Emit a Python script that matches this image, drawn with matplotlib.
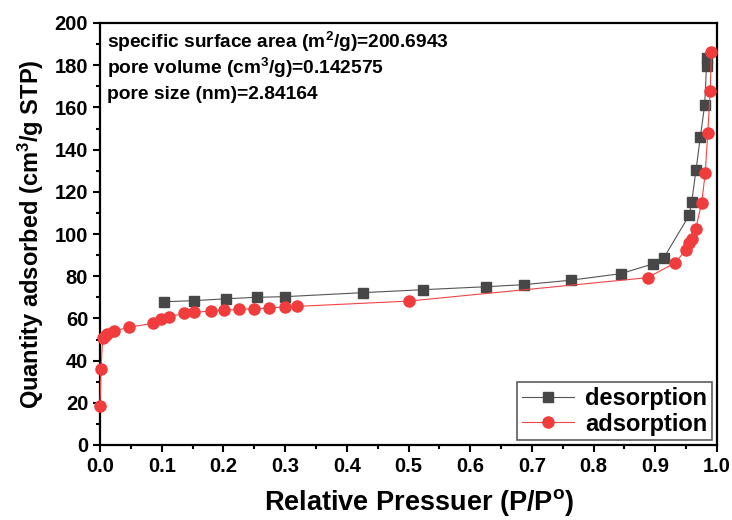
import matplotlib.pyplot as plt
from matplotlib.ticker import MultipleLocator

plt.rcParams['font.family'] = ['Liberation Sans', 'DejaVu Sans']
plt.rcParams['font.weight'] = 'bold'
plt.rcParams['mathtext.fontset'] = 'custom'
plt.rcParams['mathtext.rm'] = 'Liberation Sans:bold'
plt.rcParams['mathtext.it'] = 'Liberation Sans:bold'
plt.rcParams['mathtext.bf'] = 'Liberation Sans:bold'

# adsorption branch (P/P0, quantity)
ads_x = [0.000, 0.0016, 0.0044, 0.0081, 0.0118, 0.0227, 0.047, 0.0864, 0.0989,
         0.1119, 0.1367, 0.1529, 0.1800, 0.2006, 0.2259, 0.2492, 0.2745, 0.300,
         0.3200, 0.5000, 0.8876, 0.9325, 0.9499, 0.9552, 0.9601, 0.9653, 0.9751,
         0.981, 0.985, 0.989, 0.991]
ads_y = [18.5, 36.0, 50.6, 51.7, 52.6, 54.0, 55.8, 57.7, 59.9,
         60.8, 62.4, 62.9, 63.5, 63.8, 64.3, 64.6, 64.9, 65.5,
         65.7, 68.2, 79.3, 86.4, 92.6, 95.6, 97.5, 102.4, 114.5,
         129.1, 147.7, 167.8, 186.1]

# desorption branch
des_x = [0.991, 0.984, 0.983, 0.980, 0.973, 0.966, 0.959, 0.955, 0.914, 0.896,
         0.844, 0.763, 0.687, 0.625, 0.523, 0.426, 0.300, 0.254, 0.204, 0.152,
         0.104]
des_y = [186.1, 183.4, 179.6, 161.1, 146.0, 130.3, 115.2, 108.9, 88.8, 85.8,
         81.2, 78.1, 76.0, 75.0, 73.6, 72.2, 70.3, 70.0, 69.3, 68.4,
         67.9]

info_lines = [r'specific surface area (m$^{2}$/g)=200.6943',
              r'pore volume (cm$^{3}$/g)=0.142575',
              r'pore size (nm)=2.84164']

fig = plt.figure(figsize=(7.32, 5.2), dpi=100)
ax = fig.add_axes([100 / 732, 75 / 520, 617 / 732, 422 / 520])

ax.plot(des_x[1:], des_y[1:], color='#555555', lw=0.8, marker='s', ms=7,
        mfc='#474747', mec='#474747', label='desorption', clip_on=False, zorder=3)
ax.plot(des_x[:2], des_y[:2], color='#555555', lw=0.8, zorder=2)
ax.plot(ads_x, ads_y, color='#f04545', lw=0.8, marker='o', ms=8,
        mfc='#f03c3c', mec='#f03c3c', label='adsorption', clip_on=False, zorder=4)

ax.set_xlim(0, 1.0)
ax.set_ylim(0, 200)
ax.xaxis.set_major_locator(MultipleLocator(0.1))
ax.xaxis.set_minor_locator(MultipleLocator(0.05))
ax.yaxis.set_major_locator(MultipleLocator(20))
ax.yaxis.set_minor_locator(MultipleLocator(10))
ax.set_xticklabels(['%.1f' % v for v in ax.get_xticks()])

for s in ax.spines.values():
    s.set_linewidth(1.6)
ax.tick_params(which='major', direction='out', length=5, width=1.5, labelsize=14.5)
ax.tick_params(which='minor', direction='out', length=3, width=1.5)

ax.set_xlabel(r'Relative Pressuer (P/P$^{o}$)', fontsize=19.5, fontweight='bold', labelpad=8)
ax.xaxis.label.set_x(0.518)
ax.set_ylabel(r'Quantity adsorbed (cm$^{3}$/g STP)', fontsize=17, fontweight='bold', labelpad=6)

for txt, yy in zip(info_lines, [0.9396, 0.879, 0.819]):
    ax.text(0.011, yy, txt, transform=ax.transAxes, fontsize=13.8,
            fontweight='bold', va='baseline', ha='left')

leg = ax.legend(loc='lower right', fontsize=17, frameon=True, fancybox=False,
                edgecolor='#333333', handlelength=2.2, borderpad=0.2,
                labelspacing=0.1, borderaxespad=0.2, handletextpad=0.5)
leg.get_frame().set_linewidth(1.2)

fig.savefig('out.png', dpi=100)
